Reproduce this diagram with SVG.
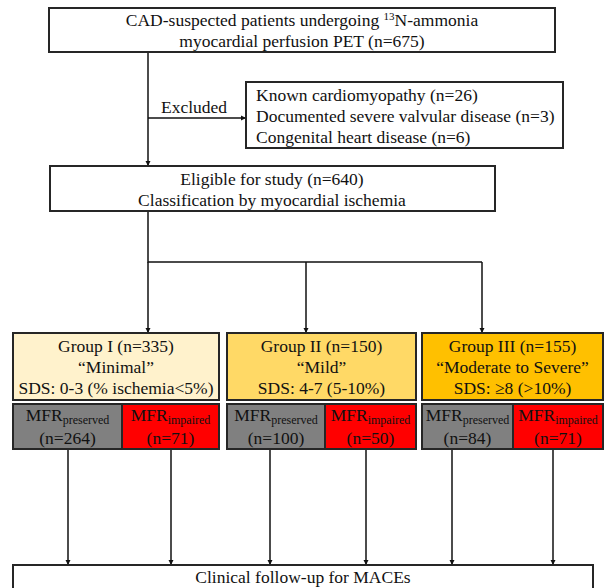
<svg xmlns="http://www.w3.org/2000/svg" width="605" height="588" viewBox="0 0 605 588">
<defs>
<marker id="ah" markerWidth="6" markerHeight="6" refX="5" refY="3" orient="auto" markerUnits="userSpaceOnUse">
<path d="M0,0.5 L5,3 L0,5.5 Z" fill="#111"/>
</marker>
<style>
.box{stroke:#262626;stroke-width:2;}
.w{fill:#fff;}
.t{font-family:"Liberation Serif","Times New Roman",serif;font-size:17.5px;fill:#111;}
.m{text-anchor:middle;}
.sub{font-size:12px;}
.c{fill:none;stroke:#111;stroke-width:1.5;}
.ca{fill:none;stroke:#111;stroke-width:1.5;marker-end:url(#ah);}
</style>
</defs>
<rect width="605" height="588" fill="#fff"/>
<g id="connectors">
<line class="ca" x1="148" y1="52" x2="148" y2="166"/>
<line class="ca" x1="148" y1="118" x2="246" y2="118"/>
<polyline class="c" points="148,211 148,262 482,262"/>
<line class="ca" x1="148" y1="262" x2="148" y2="333"/>
<line class="ca" x1="306" y1="262" x2="306" y2="333"/>
<line class="ca" x1="482" y1="262" x2="482" y2="333"/>
<line class="ca" x1="68" y1="449" x2="68" y2="565"/>
<line class="ca" x1="171" y1="449" x2="171" y2="565"/>
<line class="ca" x1="270" y1="449" x2="270" y2="565"/>
<line class="ca" x1="366" y1="449" x2="366" y2="565"/>
<line class="ca" x1="452" y1="449" x2="452" y2="565"/>
<line class="ca" x1="553" y1="449" x2="553" y2="565"/>
<text class="t" x="161" y="113">Excluded</text>
</g>
<g id="n_top">
<rect class="box w" x="49" y="8" width="506" height="44"/>
<text class="t m" x="302" y="26">CAD-suspected patients undergoing <tspan font-size="11px" dy="-6">13</tspan><tspan dy="6">N-ammonia</tspan></text>
<text class="t m" x="302" y="47">myocardial perfusion PET (n=675)</text>
</g>
<g id="n_excluded">
<rect class="box w" x="246" y="82" width="317" height="66"/>
<text class="t" x="256" y="101">Known cardiomyopathy (n=26)</text>
<text class="t" x="256" y="122">Documented severe valvular disease (n=3)</text>
<text class="t" x="256" y="143">Congenital heart disease (n=6)</text>
</g>
<g id="n_eligible">
<rect class="box w" x="50" y="166" width="445" height="45"/>
<text class="t m" x="272" y="185">Eligible for study (n=640)</text>
<text class="t m" x="272" y="206">Classification by myocardial ischemia</text>
</g>
<g id="n_g1">
<rect class="box" fill="#FFF2CC" x="13" y="333" width="206" height="67"/>
<text class="t m" x="116" y="352">Group I (n=335)</text>
<text class="t m" x="116" y="373">“Minimal”</text>
<text class="t m" x="116" y="394">SDS: 0-3 (% ischemia&lt;5%)</text>
</g>
<g id="n_g2">
<rect class="box" fill="#FFD966" x="227" y="333" width="189" height="67"/>
<text class="t m" x="321.5" y="352">Group II (n=150)</text>
<text class="t m" x="321.5" y="373">“Mild”</text>
<text class="t m" x="321.5" y="394">SDS: 4-7 (5-10%)</text>
</g>
<g id="n_g3">
<rect class="box" fill="#FFC000" x="422" y="333" width="181" height="67"/>
<text class="t m" x="512.5" y="352">Group III (n=155)</text>
<text class="t m" x="512.5" y="373">“Moderate to Severe”</text>
<text class="t m" x="512.5" y="394">SDS: ≥8 (&gt;10%)</text>
</g>
<g id="n_g1p">
<rect class="box" fill="#808080" x="13" y="404" width="109" height="45"/>
<text class="t m" x="67.5" y="421">MFR<tspan class="sub" dy="3">preserved</tspan></text>
<text class="t m" x="67.5" y="444">(n=264)</text>
</g>
<g id="n_g1i">
<rect class="box" fill="#FF0000" x="122" y="404" width="97" height="45"/>
<text class="t m" x="170.5" y="421">MFR<tspan class="sub" dy="3">impaired</tspan></text>
<text class="t m" x="170.5" y="444">(n=71)</text>
</g>
<g id="n_g2p">
<rect class="box" fill="#808080" x="227" y="404" width="98" height="45"/>
<text class="t m" x="276" y="421">MFR<tspan class="sub" dy="3">preserved</tspan></text>
<text class="t m" x="276" y="444">(n=100)</text>
</g>
<g id="n_g2i">
<rect class="box" fill="#FF0000" x="325" y="404" width="91" height="45"/>
<text class="t m" x="370.5" y="421">MFR<tspan class="sub" dy="3">impaired</tspan></text>
<text class="t m" x="370.5" y="444">(n=50)</text>
</g>
<g id="n_g3p">
<rect class="box" fill="#808080" x="422" y="404" width="91" height="45"/>
<text class="t m" x="467.5" y="421">MFR<tspan class="sub" dy="3">preserved</tspan></text>
<text class="t m" x="467.5" y="444">(n=84)</text>
</g>
<g id="n_g3i">
<rect class="box" fill="#FF0000" x="513" y="404" width="90" height="45"/>
<text class="t m" x="558" y="421">MFR<tspan class="sub" dy="3">impaired</tspan></text>
<text class="t m" x="558" y="444">(n=71)</text>
</g>
<g id="n_follow">
<rect class="box w" x="13" y="565" width="580" height="30"/>
<text class="t m" x="303" y="583">Clinical follow-up for MACEs</text>
</g>
</svg>
